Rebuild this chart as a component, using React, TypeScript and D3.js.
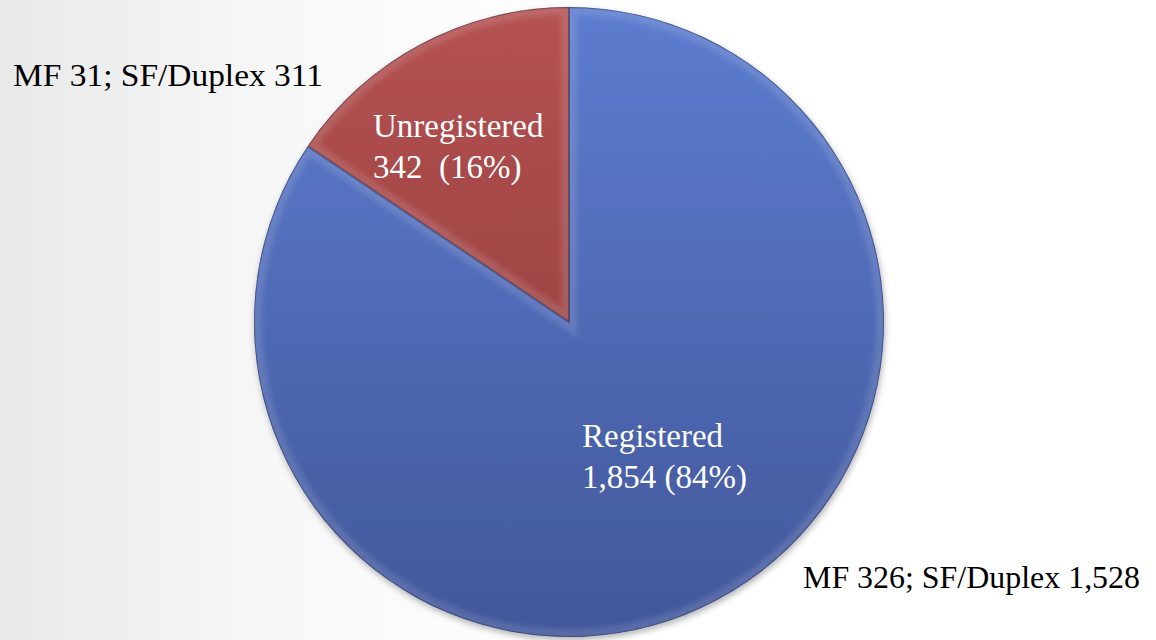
import React from 'react';
import * as d3 from 'd3';

const categories = ['Unregistered', 'Registered'];
const counts = [342, 1854];
const percentLabels = ['342\u00a0\u00a0(16%)', '1,854 (84%)'];
const breakdownLabels = ['MF 31; SF/Duplex 311', 'MF 326; SF/Duplex 1,528'];
const topColors = ['#b55252', '#5c7ccf'];
const bottomColors = ['#883535', '#42579a'];

const width = 1156;
const height = 640;
const cx = 569;
const cy = 322;
const radius = 315;
const font = "'Liberation Serif', 'DejaVu Serif', serif";

interface ISlice {
  name: string;
  value: number;
  index: number;
}

const slices: ISlice[] = categories.map((name, i) => ({ name, value: counts[i], index: i }));

export default function App() {
  const pie = d3
    .pie<ISlice>()
    .value((d) => d.value)
    .sort(null)
    .startAngle(0)
    .endAngle(-2 * Math.PI);
  const arcs = pie(slices);
  const arc = d3.arc<d3.PieArcDatum<ISlice>>().innerRadius(0).outerRadius(radius);

  // inner label spots, relative to the centre
  const innerPos = [
    { x: -196, y: -185 },
    { x: 13, y: 125 },
  ];
  const innerWidths = [182, 151];
  const outerPos = [
    { x: 13, y: 86 },
    { x: 803, y: 588 },
  ];
  const outerWidths = [310, 337];

  return (
    <div style={{ position: 'fixed', left: 0, top: 0 }}>
      <svg width={width} height={height} viewBox={`0 0 ${width} ${height}`} style={{ display: 'block' }}>
        <defs>
          <linearGradient id='bg' x1='0' y1='0' x2='1' y2='0'>
            <stop offset='0' stopColor='#e9e9e9' />
            <stop offset='0.25' stopColor='#f8f8f8' />
            <stop offset='0.5' stopColor='#ffffff' />
          </linearGradient>
          {arcs.map((a) => (
            <linearGradient
              key={a.data.name}
              id={`g${a.index}`}
              gradientUnits='userSpaceOnUse'
              x1='0'
              y1={-radius}
              x2='0'
              y2={radius}
            >
              <stop offset='0' stopColor={topColors[a.data.index]} />
              <stop offset='1' stopColor={bottomColors[a.data.index]} />
            </linearGradient>
          ))}
          {arcs.map((a) => (
            <clipPath key={a.data.name} id={`c${a.index}`}>
              <path d={arc(a) || ''} />
            </clipPath>
          ))}
          <filter id='shadow' x='-10%' y='-10%' width='120%' height='120%'>
            <feDropShadow dx='1' dy='3' stdDeviation='3' floodColor='#000' floodOpacity='0.3' />
          </filter>
          <filter id='soft'>
            <feGaussianBlur stdDeviation='2.5' />
          </filter>
        </defs>
        <rect width={width} height={height} fill='url(#bg)' />
        <g transform={`translate(${cx},${cy})`}>
          <g filter='url(#shadow)'>
            {arcs.map((a) => (
              <path key={a.data.name} d={arc(a) || ''} fill={`url(#g${a.index})`} />
            ))}
          </g>
          {arcs.map((a) => (
            <g key={a.data.name} clipPath={`url(#c${a.index})`}>
              <path
                d={arc(a) || ''}
                fill='none'
                stroke='#ffffff'
                strokeOpacity={0.12}
                strokeWidth={16}
                filter='url(#soft)'
              />
              <path d={arc(a) || ''} fill='none' stroke='#1a2240' strokeOpacity={0.45} strokeWidth={2} />
            </g>
          ))}
          {arcs.map((a) => (
            <text
              key={a.data.name}
              x={innerPos[a.data.index].x}
              y={innerPos[a.data.index].y}
              fill='#ffffff'
              fontFamily={font}
              fontSize={33}
            >
              <tspan x={innerPos[a.data.index].x}>{a.data.name}</tspan>
              <tspan x={innerPos[a.data.index].x} dy={41}>
                {percentLabels[a.data.index]}
              </tspan>
            </text>
          ))}
        </g>
        {breakdownLabels.map((t, i) => (
          <text
            key={t}
            x={outerPos[i].x}
            y={outerPos[i].y}
            fill='#000000'
            fontFamily={font}
            fontSize={32}
            textLength={outerWidths[i]}
            lengthAdjust='spacingAndGlyphs'
          >
            {t}
          </text>
        ))}
      </svg>
    </div>
  );
}
